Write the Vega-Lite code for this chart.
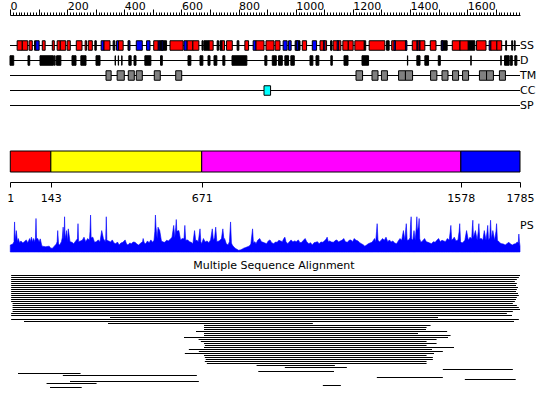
{
  "$schema": "https://vega.github.io/schema/vega-lite/v6.json",
  "padding": {"left": 6, "top": 0, "right": 0, "bottom": 0},
  "background": "white",
  "spacing": 23,
  "bounds": "flush",
  "resolve": {"scale": {"color": "independent"}},
  "config": {
    "view": {"stroke": null},
    "font": "DejaVu Sans",
    "axis": {"labelFont": "DejaVu Sans", "labelColor": "black", "domainColor": "black", "tickColor": "black", "grid": false, "title": null}
  },
  "vconcat": [
    {
      "width": 510,
      "height": 113,
      "layer": [
        {
          "data": {"values": [{"track": "SS"}, {"track": "D"}, {"track": "TM"}, {"track": "CC"}, {"track": "SP"}]},
          "mark": {"type": "rule", "color": "black", "strokeWidth": 1},
          "encoding": {
            "x": {"datum": 0, "type": "quantitative", "scale": {"domain": [0, 1785], "nice": false, "zero": false},
              "axis": {"orient": "top", "tickCount": 179, "labelExpr": "datum.value % 200 === 0 ? '' + datum.value : ''",
                "tickSize": {"condition": {"test": "datum.value % 100 === 0", "value": 6}, "value": 3},
                "labelAlign": "left", "labelPadding": -2, "labelFontSize": 11, "labelOverlap": false, "labelFlush": false, "domainWidth": 1, "tickWidth": 1}},
            "x2": {"datum": 1785},
            "y": {"field": "track", "type": "nominal", "scale": {"type": "point", "padding": 0, "domain": ["SS", "D", "TM", "CC", "SP"], "range": [30.5, 90.5]}, "axis": null}
          }
        },
        {
          "data": {"values": [
            {"track":"SS","type":"H","start":25,"end":43},{"track":"SS","type":"H","start":43,"end":62},{"track":"SS","type":"H","start":67,"end":78},
            {"track":"SS","type":"C","start":86,"end":90},{"track":"SS","type":"E","start":90,"end":102},{"track":"SS","type":"H","start":113,"end":123},
            {"track":"SS","type":"H","start":148,"end":155},{"track":"SS","type":"H","start":165,"end":176},{"track":"SS","type":"H","start":176,"end":195},
            {"track":"SS","type":"H","start":200,"end":211},{"track":"SS","type":"H","start":232,"end":252},{"track":"SS","type":"H","start":263,"end":268},
            {"track":"SS","type":"H","start":274,"end":288},{"track":"SS","type":"C","start":297,"end":302},{"track":"SS","type":"E","start":319,"end":329},
            {"track":"SS","type":"H","start":329,"end":350},{"track":"SS","type":"C","start":361,"end":367},{"track":"SS","type":"E","start":373,"end":380},
            {"track":"SS","type":"H","start":380,"end":396},{"track":"SS","type":"C","start":413,"end":416},{"track":"SS","type":"E","start":416,"end":420},
            {"track":"SS","type":"E","start":442,"end":463},{"track":"SS","type":"E","start":478,"end":490},{"track":"SS","type":"H","start":503,"end":519},
            {"track":"SS","type":"E","start":519,"end":525},{"track":"SS","type":"C","start":525,"end":548},{"track":"SS","type":"E","start":530,"end":535},
            {"track":"SS","type":"H","start":560,"end":606},{"track":"SS","type":"E","start":609,"end":620},{"track":"SS","type":"H","start":620,"end":640},
            {"track":"SS","type":"H","start":640,"end":661},{"track":"SS","type":"C","start":672,"end":676},{"track":"SS","type":"C","start":679,"end":697},
            {"track":"SS","type":"H","start":697,"end":711},{"track":"SS","type":"C","start":725,"end":730},{"track":"SS","type":"C","start":735,"end":742},
            {"track":"SS","type":"H","start":742,"end":751},{"track":"SS","type":"H","start":758,"end":778},{"track":"SS","type":"C","start":795,"end":801},
            {"track":"SS","type":"H","start":822,"end":835},{"track":"SS","type":"E","start":851,"end":861},{"track":"SS","type":"H","start":861,"end":889},
            {"track":"SS","type":"H","start":896,"end":924},{"track":"SS","type":"H","start":928,"end":945},{"track":"SS","type":"E","start":956,"end":970},
            {"track":"SS","type":"E","start":975,"end":984},{"track":"SS","type":"C","start":998,"end":1015},{"track":"SS","type":"E","start":1002,"end":1009},
            {"track":"SS","type":"H","start":1023,"end":1038},{"track":"SS","type":"E","start":1058,"end":1073},{"track":"SS","type":"H","start":1085,"end":1108},
            {"track":"SS","type":"E","start":1097,"end":1102},{"track":"SS","type":"C","start":1122,"end":1127},{"track":"SS","type":"H","start":1131,"end":1158},
            {"track":"SS","type":"E","start":1145,"end":1150},{"track":"SS","type":"H","start":1165,"end":1184},{"track":"SS","type":"H","start":1184,"end":1201},
            {"track":"SS","type":"H","start":1207,"end":1240},{"track":"SS","type":"C","start":1240,"end":1245},{"track":"SS","type":"H","start":1257,"end":1312},
            {"track":"SS","type":"C","start":1318,"end":1327},{"track":"SS","type":"H","start":1336,"end":1388},{"track":"SS","type":"E","start":1344,"end":1349},
            {"track":"SS","type":"E","start":1384,"end":1389},{"track":"SS","type":"H","start":1408,"end":1452},{"track":"SS","type":"E","start":1424,"end":1427},
            {"track":"SS","type":"E","start":1432,"end":1435},{"track":"SS","type":"H","start":1471,"end":1491},{"track":"SS","type":"C","start":1509,"end":1530},
            {"track":"SS","type":"E","start":1511,"end":1515},{"track":"SS","type":"H","start":1548,"end":1575},{"track":"SS","type":"H","start":1575,"end":1604},
            {"track":"SS","type":"C","start":1604,"end":1627},{"track":"SS","type":"H","start":1633,"end":1666},{"track":"SS","type":"E","start":1677,"end":1683},
            {"track":"SS","type":"H","start":1683,"end":1704},{"track":"SS","type":"H","start":1704,"end":1721},{"track":"SS","type":"C","start":1735,"end":1738},
            {"track":"SS","type":"C","start":1756,"end":1759},{"track":"SS","type":"C","start":1765,"end":1768},
            {"track":"D","type":"disorder","start":0,"end":13},{"track":"D","type":"disorder","start":63,"end":69},{"track":"D","type":"disorder","start":105,"end":152},
            {"track":"D","type":"disorder","start":155,"end":158},{"track":"D","type":"disorder","start":163,"end":178},{"track":"D","type":"disorder","start":217,"end":231},
            {"track":"D","type":"disorder","start":248,"end":266},{"track":"D","type":"disorder","start":301,"end":315},{"track":"D","type":"disorder","start":368,"end":369},
            {"track":"D","type":"disorder","start":379,"end":380},{"track":"D","type":"disorder","start":391,"end":392},{"track":"D","type":"disorder","start":416,"end":424},
            {"track":"D","type":"disorder","start":434,"end":441},{"track":"D","type":"disorder","start":472,"end":493},{"track":"D","type":"disorder","start":527,"end":533},
            {"track":"D","type":"disorder","start":623,"end":633},{"track":"D","type":"disorder","start":665,"end":675},{"track":"D","type":"disorder","start":693,"end":700},
            {"track":"D","type":"disorder","start":714,"end":724},{"track":"D","type":"disorder","start":745,"end":752},{"track":"D","type":"disorder","start":777,"end":829},
            {"track":"D","type":"disorder","start":892,"end":899},{"track":"D","type":"disorder","start":918,"end":932},{"track":"D","type":"disorder","start":940,"end":953},
            {"track":"D","type":"disorder","start":962,"end":975},{"track":"D","type":"disorder","start":983,"end":995},{"track":"D","type":"disorder","start":1050,"end":1060},
            {"track":"D","type":"disorder","start":1071,"end":1081},{"track":"D","type":"disorder","start":1123,"end":1128},{"track":"D","type":"disorder","start":1169,"end":1183},
            {"track":"D","type":"disorder","start":1232,"end":1255},{"track":"D","type":"disorder","start":1391,"end":1392},{"track":"D","type":"disorder","start":1424,"end":1435},
            {"track":"D","type":"disorder","start":1452,"end":1465},{"track":"D","type":"disorder","start":1499,"end":1506},{"track":"D","type":"disorder","start":1613,"end":1614},
            {"track":"D","type":"disorder","start":1718,"end":1719},{"track":"D","type":"disorder","start":1731,"end":1747},{"track":"D","type":"disorder","start":1751,"end":1758},
            {"track":"D","type":"disorder","start":1767,"end":1774},
            {"track":"TM","type":"TM","start":336,"end":354},{"track":"TM","type":"TM","start":375,"end":400},{"track":"TM","type":"TM","start":414,"end":435},
            {"track":"TM","type":"TM","start":442,"end":463},{"track":"TM","type":"TM","start":505,"end":526},{"track":"TM","type":"TM","start":580,"end":601},
            {"track":"TM","type":"TM","start":1211,"end":1234},{"track":"TM","type":"TM","start":1267,"end":1288},{"track":"TM","type":"TM","start":1300,"end":1321},
            {"track":"TM","type":"TM","start":1360,"end":1384},{"track":"TM","type":"TM","start":1384,"end":1409},{"track":"TM","type":"TM","start":1472,"end":1494},
            {"track":"TM","type":"TM","start":1512,"end":1533},{"track":"TM","type":"TM","start":1549,"end":1570},{"track":"TM","type":"TM","start":1584,"end":1605},
            {"track":"TM","type":"TM","start":1643,"end":1668},{"track":"TM","type":"TM","start":1668,"end":1692},{"track":"TM","type":"TM","start":1713,"end":1734},
            {"track":"CC","type":"CC","start":889,"end":912}
          ]},
          "mark": {"type": "bar", "size": 9.5, "stroke": "black", "strokeWidth": 1},
          "encoding": {
            "x": {"field": "start", "type": "quantitative", "scale": {"domain": [0, 1785], "nice": false, "zero": false}},
            "x2": {"field": "end"},
            "y": {"field": "track", "type": "nominal", "scale": {"type": "point", "padding": 0, "domain": ["SS", "D", "TM", "CC", "SP"], "range": [30.5, 90.5]}, "axis": null},
            "color": {"field": "type", "type": "nominal", "scale": {"domain": ["H", "E", "C", "disorder", "TM", "CC"], "range": ["#ff0000", "#0000ff", "#000000", "#000000", "#808080", "#00ffff"]}, "legend": null}
          }
        },
        {
          "data": {"values": [{"track": "SS"}, {"track": "D"}, {"track": "TM"}, {"track": "CC"}, {"track": "SP"}]},
          "mark": {"type": "text", "align": "left", "baseline": "middle", "fontSize": 11, "color": "black", "font": "DejaVu Sans"},
          "encoding": {
            "x": {"datum": 1785, "type": "quantitative"},
            "y": {"field": "track", "type": "nominal", "scale": {"type": "point", "padding": 0, "domain": ["SS", "D", "TM", "CC", "SP"], "range": [30.5, 90.5]}, "axis": null},
            "text": {"field": "track"}
          }
        }
      ]
    },
    {
      "width": 510,
      "height": 21,
      "data": {"values": [
        {"segment": "1-143", "start": 1, "end": 143},
        {"segment": "143-671", "start": 143, "end": 671},
        {"segment": "671-1578", "start": 671, "end": 1578},
        {"segment": "1578-1785", "start": 1578, "end": 1785}
      ]},
      "mark": {"type": "rect", "stroke": "black", "strokeWidth": 1},
      "encoding": {
        "x": {"field": "start", "type": "quantitative", "scale": {"domain": [0, 1785], "nice": false, "zero": false},
          "axis": {"orient": "bottom", "offset": 10, "values": [1, 143, 671, 1578, 1785], "format": "d", "tickSize": 5, "labelPadding": 5, "labelFontSize": 11, "labelOverlap": false, "labelFlush": false}},
        "x2": {"field": "end"},
        "color": {"field": "segment", "type": "nominal", "scale": {"domain": ["1-143", "143-671", "671-1578", "1578-1785"], "range": ["#ff0000", "#ffff00", "#ff00ff", "#0000ff"]}, "legend": null}
      }
    },
    {
      "width": 510,
      "height": 57,
      "layer": [
        {
          "data": {"values": [
            {"pos":1,"score":20},{"pos":10,"score":23},{"pos":14,"score":30},{"pos":16,"score":87},{"pos":18,"score":34},{"pos":22,"score":62},{"pos":26,"score":30},{"pos":29,"score":39},{"pos":34,"score":26},{"pos":38,"score":32},
            {"pos":45,"score":26},{"pos":50,"score":30},{"pos":57,"score":35},{"pos":62,"score":27},{"pos":69,"score":39},{"pos":72,"score":30},{"pos":75,"score":43},{"pos":79,"score":29},{"pos":82,"score":39},{"pos":87,"score":30},
            {"pos":89,"score":41},{"pos":91,"score":97},{"pos":93,"score":38},{"pos":97,"score":39},{"pos":102,"score":29},{"pos":106,"score":38},{"pos":110,"score":23},{"pos":112,"score":17},{"pos":125,"score":15},{"pos":137,"score":17},
            {"pos":143,"score":11},{"pos":149,"score":11},{"pos":155,"score":17},{"pos":162,"score":23},{"pos":165,"score":30},{"pos":167,"score":62},{"pos":170,"score":23},{"pos":174,"score":20},{"pos":180,"score":30},{"pos":183,"score":41},
            {"pos":186,"score":72},{"pos":189,"score":34},{"pos":191,"score":102},{"pos":193,"score":38},{"pos":198,"score":62},{"pos":201,"score":30},{"pos":204,"score":67},{"pos":210,"score":30},{"pos":217,"score":28},{"pos":223,"score":24},
            {"pos":230,"score":32},{"pos":236,"score":38},{"pos":238,"score":82},{"pos":240,"score":30},{"pos":247,"score":32},{"pos":253,"score":34},{"pos":259,"score":43},{"pos":265,"score":30},{"pos":272,"score":39},{"pos":278,"score":34},
            {"pos":280,"score":60},{"pos":282,"score":107},{"pos":284,"score":41},{"pos":290,"score":43},{"pos":296,"score":28},{"pos":302,"score":30},{"pos":309,"score":35},{"pos":315,"score":30},{"pos":321,"score":62},{"pos":327,"score":39},
            {"pos":333,"score":30},{"pos":335,"score":38},{"pos":337,"score":102},{"pos":339,"score":34},{"pos":345,"score":32},{"pos":352,"score":29},{"pos":358,"score":35},{"pos":364,"score":26},{"pos":370,"score":24},{"pos":376,"score":29},
            {"pos":382,"score":20},{"pos":388,"score":26},{"pos":395,"score":28},{"pos":403,"score":35},{"pos":408,"score":23},{"pos":413,"score":20},{"pos":419,"score":26},{"pos":425,"score":24},{"pos":431,"score":29},{"pos":438,"score":28},
            {"pos":444,"score":23},{"pos":450,"score":20},{"pos":458,"score":26},{"pos":464,"score":30},{"pos":466,"score":39},{"pos":470,"score":26},{"pos":475,"score":24},{"pos":481,"score":32},{"pos":487,"score":27},{"pos":493,"score":35},
            {"pos":499,"score":28},{"pos":504,"score":34},{"pos":507,"score":60},{"pos":509,"score":107},{"pos":511,"score":72},{"pos":515,"score":38},{"pos":518,"score":72},{"pos":524,"score":62},{"pos":530,"score":32},{"pos":536,"score":29},
            {"pos":542,"score":28},{"pos":548,"score":34},{"pos":554,"score":32},{"pos":560,"score":36},{"pos":567,"score":43},{"pos":573,"score":77},{"pos":577,"score":41},{"pos":580,"score":70},{"pos":582,"score":94},{"pos":584,"score":60},
            {"pos":591,"score":62},{"pos":597,"score":35},{"pos":603,"score":39},{"pos":609,"score":38},{"pos":612,"score":77},{"pos":615,"score":34},{"pos":622,"score":35},{"pos":628,"score":30},{"pos":634,"score":28},{"pos":640,"score":24},
            {"pos":646,"score":62},{"pos":650,"score":32},{"pos":653,"score":35},{"pos":659,"score":30},{"pos":665,"score":67},{"pos":668,"score":30},{"pos":671,"score":24},{"pos":677,"score":39},{"pos":683,"score":29},{"pos":690,"score":32},
            {"pos":696,"score":27},{"pos":702,"score":35},{"pos":708,"score":67},{"pos":712,"score":34},{"pos":716,"score":41},{"pos":720,"score":72},{"pos":724,"score":30},{"pos":732,"score":32},{"pos":740,"score":38},{"pos":745,"score":67},
            {"pos":749,"score":34},{"pos":751,"score":39},{"pos":757,"score":24},{"pos":763,"score":20},{"pos":768,"score":30},{"pos":772,"score":87},{"pos":775,"score":26},{"pos":778,"score":20},{"pos":783,"score":15},{"pos":788,"score":11},
            {"pos":794,"score":8},{"pos":800,"score":5},{"pos":806,"score":6},{"pos":812,"score":8},{"pos":818,"score":11},{"pos":825,"score":13},{"pos":831,"score":15},{"pos":837,"score":17},{"pos":843,"score":23},{"pos":849,"score":67},
            {"pos":852,"score":26},{"pos":857,"score":30},{"pos":861,"score":24},{"pos":867,"score":34},{"pos":874,"score":39},{"pos":880,"score":30},{"pos":886,"score":28},{"pos":892,"score":26},{"pos":898,"score":24},{"pos":904,"score":32},
            {"pos":910,"score":35},{"pos":916,"score":27},{"pos":923,"score":24},{"pos":929,"score":29},{"pos":935,"score":28},{"pos":941,"score":34},{"pos":947,"score":32},{"pos":953,"score":30},{"pos":958,"score":38},{"pos":962,"score":43},
            {"pos":966,"score":30},{"pos":972,"score":24},{"pos":978,"score":30},{"pos":984,"score":35},{"pos":990,"score":29},{"pos":996,"score":32},{"pos":1002,"score":30},{"pos":1009,"score":35},{"pos":1015,"score":27},{"pos":1021,"score":28},
            {"pos":1027,"score":34},{"pos":1033,"score":39},{"pos":1039,"score":29},{"pos":1046,"score":24},{"pos":1052,"score":27},{"pos":1058,"score":20},{"pos":1064,"score":27},{"pos":1070,"score":28},{"pos":1076,"score":30},{"pos":1082,"score":24},
            {"pos":1088,"score":29},{"pos":1095,"score":28},{"pos":1102,"score":33},{"pos":1107,"score":38},{"pos":1110,"score":43},{"pos":1114,"score":30},{"pos":1119,"score":32},{"pos":1125,"score":29},{"pos":1132,"score":28},{"pos":1138,"score":33},
            {"pos":1144,"score":35},{"pos":1150,"score":29},{"pos":1156,"score":32},{"pos":1162,"score":34},{"pos":1168,"score":39},{"pos":1174,"score":30},{"pos":1181,"score":28},{"pos":1187,"score":34},{"pos":1193,"score":35},{"pos":1199,"score":30},
            {"pos":1205,"score":39},{"pos":1211,"score":34},{"pos":1218,"score":32},{"pos":1224,"score":27},{"pos":1230,"score":24},{"pos":1236,"score":21},{"pos":1242,"score":17},{"pos":1248,"score":20},{"pos":1254,"score":24},{"pos":1260,"score":26},
            {"pos":1267,"score":28},{"pos":1272,"score":34},{"pos":1276,"score":39},{"pos":1280,"score":30},{"pos":1283,"score":60},{"pos":1285,"score":82},{"pos":1288,"score":34},{"pos":1293,"score":30},{"pos":1297,"score":32},{"pos":1304,"score":39},
            {"pos":1310,"score":34},{"pos":1316,"score":43},{"pos":1322,"score":30},{"pos":1328,"score":35},{"pos":1334,"score":29},{"pos":1340,"score":32},{"pos":1346,"score":26},{"pos":1353,"score":24},{"pos":1359,"score":32},{"pos":1365,"score":39},
            {"pos":1371,"score":34},{"pos":1377,"score":62},{"pos":1382,"score":34},{"pos":1385,"score":65},{"pos":1387,"score":82},{"pos":1390,"score":34},{"pos":1396,"score":35},{"pos":1400,"score":41},{"pos":1402,"score":80},{"pos":1404,"score":102},
            {"pos":1406,"score":38},{"pos":1410,"score":34},{"pos":1414,"score":62},{"pos":1418,"score":34},{"pos":1422,"score":70},{"pos":1424,"score":102},{"pos":1426,"score":60},{"pos":1430,"score":75},{"pos":1432,"score":97},{"pos":1434,"score":38},
            {"pos":1438,"score":28},{"pos":1444,"score":32},{"pos":1451,"score":39},{"pos":1457,"score":30},{"pos":1463,"score":28},{"pos":1469,"score":26},{"pos":1475,"score":24},{"pos":1482,"score":30},{"pos":1488,"score":28},{"pos":1494,"score":34},
            {"pos":1500,"score":39},{"pos":1506,"score":30},{"pos":1512,"score":34},{"pos":1518,"score":32},{"pos":1524,"score":30},{"pos":1531,"score":39},{"pos":1537,"score":34},{"pos":1541,"score":60},{"pos":1543,"score":77},{"pos":1546,"score":34},
            {"pos":1551,"score":38},{"pos":1555,"score":43},{"pos":1561,"score":32},{"pos":1568,"score":35},{"pos":1572,"score":60},{"pos":1574,"score":82},{"pos":1577,"score":30},{"pos":1582,"score":26},{"pos":1586,"score":28},{"pos":1592,"score":34},
            {"pos":1598,"score":62},{"pos":1604,"score":34},{"pos":1610,"score":43},{"pos":1616,"score":38},{"pos":1618,"score":70},{"pos":1620,"score":92},{"pos":1622,"score":41},{"pos":1629,"score":62},{"pos":1635,"score":34},{"pos":1639,"score":60},
            {"pos":1641,"score":82},{"pos":1644,"score":38},{"pos":1650,"score":39},{"pos":1655,"score":34},{"pos":1660,"score":62},{"pos":1666,"score":34},{"pos":1670,"score":60},{"pos":1672,"score":77},{"pos":1675,"score":34},{"pos":1679,"score":41},
            {"pos":1682,"score":92},{"pos":1685,"score":38},{"pos":1690,"score":62},{"pos":1696,"score":34},{"pos":1701,"score":60},{"pos":1703,"score":82},{"pos":1706,"score":34},{"pos":1709,"score":32},{"pos":1715,"score":26},{"pos":1721,"score":24},
            {"pos":1727,"score":23},{"pos":1733,"score":20},{"pos":1739,"score":24},{"pos":1746,"score":28},{"pos":1752,"score":23},{"pos":1758,"score":20},{"pos":1764,"score":23},{"pos":1770,"score":24},{"pos":1775,"score":29},{"pos":1779,"score":26},
            {"pos":1781,"score":52},{"pos":1783,"score":30},{"pos":1785,"score":17}
          ]},
          "mark": {"type": "area", "color": "#0000ff", "stroke": "#0000ff", "strokeWidth": 0.6, "interpolate": "linear"},
          "encoding": {
            "x": {"field": "pos", "type": "quantitative", "scale": {"domain": [0, 1785], "nice": false, "zero": false}, "axis": null},
            "y": {"field": "score", "type": "quantitative", "scale": {"domain": [0, 165], "nice": false}, "axis": null}
          }
        },
        {
          "data": {"values": [{"label": "PS"}]},
          "mark": {"type": "text", "align": "left", "baseline": "middle", "fontSize": 11, "color": "black", "font": "DejaVu Sans"},
          "encoding": {
            "x": {"datum": 1785, "type": "quantitative"},
            "y": {"datum": 74, "type": "quantitative"},
            "text": {"field": "label"}
          }
        }
      ]
    },
    {
      "width": 510,
      "height": 114,
      "title": {"text": "Multiple Sequence Alignment", "fontSize": 11, "fontWeight": "normal", "font": "DejaVu Sans", "color": "black", "anchor": "middle", "offset": 4, "dx": 9},
      "data": {"values": [
        {"row":0,"start":4,"end":1785},{"row":1,"start":4,"end":1781},{"row":2,"start":4,"end":1774},{"row":3,"start":4,"end":1767},{"row":4,"start":4,"end":1774},
        {"row":5,"start":4,"end":1771},{"row":6,"start":4,"end":1778},{"row":7,"start":4,"end":1774},{"row":8,"start":4,"end":1771},{"row":9,"start":4,"end":1778},
        {"row":10,"start":4,"end":1781},{"row":11,"start":4,"end":1774},{"row":12,"start":4,"end":1771},{"row":13,"start":4,"end":1767},{"row":14,"start":9,"end":1760},
        {"row":15,"start":9,"end":1774},{"row":16,"start":9,"end":1781},{"row":17,"start":9,"end":1785},{"row":18,"start":9,"end":1760},{"row":19,"start":4,"end":1739},
        {"row":20,"start":4,"end":1757},{"row":21,"start":350,"end":1498},{"row":22,"start":4,"end":1781},{"row":23,"start":49,"end":1764},{"row":24,"start":343,"end":1060},
        {"row":25,"start":679,"end":1472},{"row":26,"start":679,"end":1458},{"row":27,"start":679,"end":1456},{"row":28,"start":651,"end":1530},{"row":29,"start":679,"end":1428},
        {"row":30,"start":679,"end":1542},{"row":31,"start":609,"end":1533},{"row":32,"start":660,"end":1493},{"row":33,"start":668,"end":1458},{"row":34,"start":679,"end":1493},
        {"row":35,"start":682,"end":1458},{"row":36,"start":679,"end":1554},{"row":37,"start":626,"end":1477},{"row":38,"start":661,"end":1515},{"row":39,"start":612,"end":1484},
        {"row":40,"start":679,"end":1458},{"row":41,"start":682,"end":1480},{"row":42,"start":685,"end":1480},{"row":43,"start":682,"end":1458},{"row":44,"start":689,"end":1458},
        {"row":45,"start":863,"end":1137},{"row":46,"start":962,"end":1179},{"row":47,"start":1515,"end":1760},{"row":48,"start":869,"end":1134},{"row":49,"start":28,"end":247},
        {"row":50,"start":185,"end":654},{"row":51,"start":1284,"end":1515},{"row":52,"start":1592,"end":1770},{"row":53,"start":210,"end":661},{"row":54,"start":128,"end":303},
        {"row":55,"start":1095,"end":1158},{"row":56,"start":140,"end":251}
      ]},
      "mark": {"type": "rule", "color": "black", "strokeWidth": 1, "yOffset": 0.5},
      "encoding": {
        "x": {"field": "start", "type": "quantitative", "scale": {"domain": [0, 1785], "nice": false, "zero": false}, "axis": null},
        "x2": {"field": "end"},
        "y": {"field": "row", "type": "quantitative", "scale": {"domain": [0, 57], "reverse": true, "nice": false}, "axis": null}
      }
    }
  ]
}
